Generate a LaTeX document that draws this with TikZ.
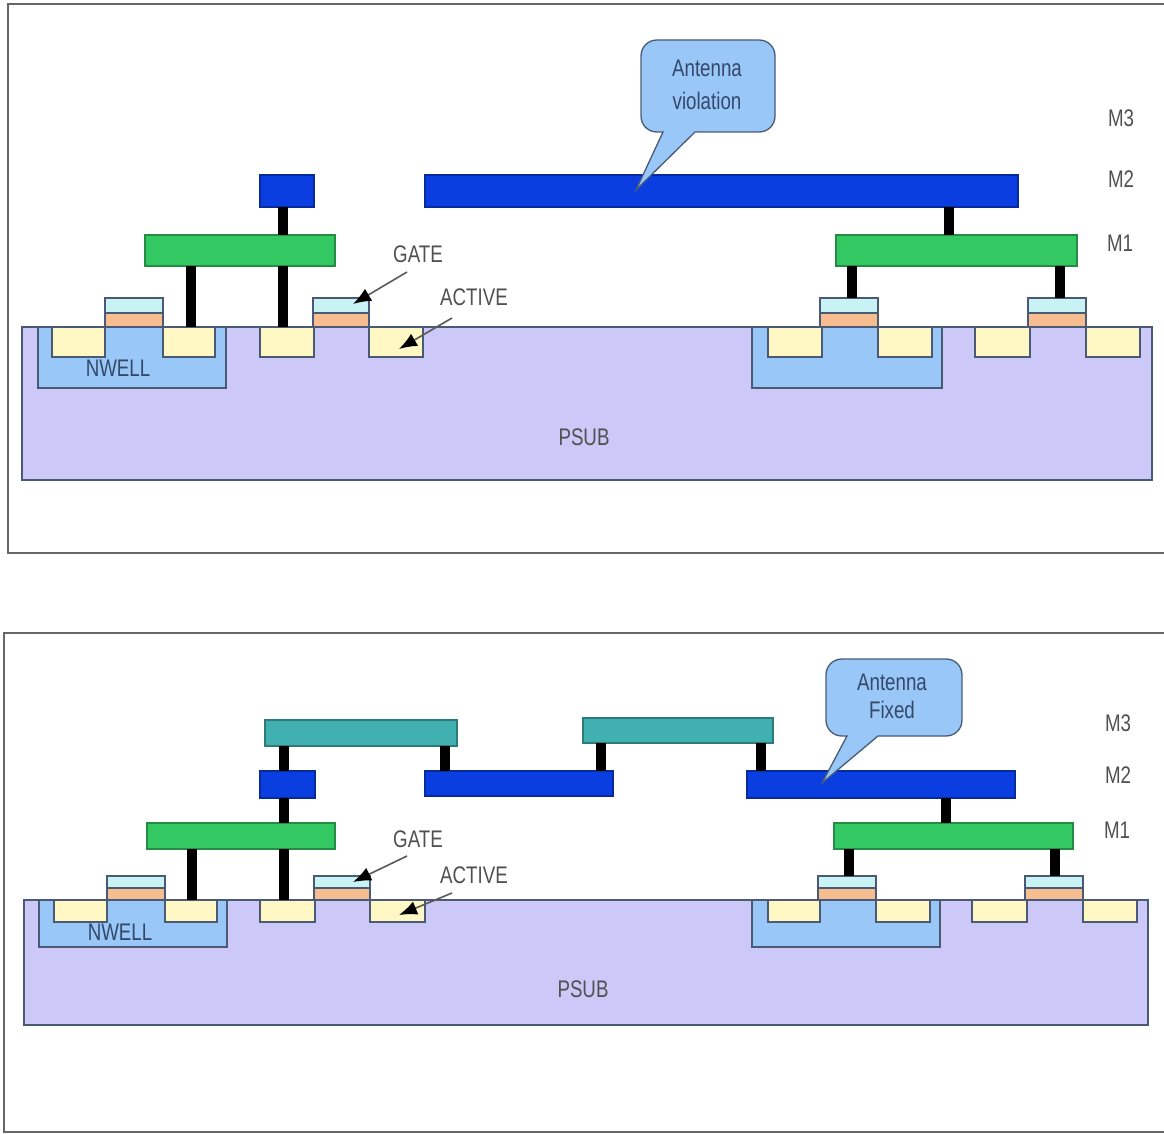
\documentclass[tikz,border=0pt]{standalone}
\usepackage{fontspec}
\usepackage{tikz}
\usetikzlibrary{arrows.meta,fit}
\newfontfamily\lblfont[FakeStretch=0.78]{Liberation Sans}
\definecolor{SubFill}{HTML}{CCC8F8}
\definecolor{WellFill}{HTML}{99C8F8}
\definecolor{ActiveFill}{HTML}{FFF8C4}
\definecolor{CapFill}{HTML}{C8F2F4}
\definecolor{PolyFill}{HTML}{F6BE90}
\definecolor{MoneFill}{HTML}{33C862}
\definecolor{MtwoFill}{HTML}{0A3EE0}
\definecolor{MthreeFill}{HTML}{40B0B0}
\definecolor{EdgeGray}{HTML}{4A5A74}
\definecolor{LabelGray}{HTML}{505050}
\definecolor{LabelBlue}{HTML}{34486A}

\begin{document}
\begin{tikzpicture}[
  x=1pt, y=-1pt,
  layer/.style={draw=EdgeGray, line width=1.2pt, inner sep=0pt, outer sep=0pt},
  psub/.style={layer, fill=SubFill},
  nwell/.style={layer, fill=WellFill},
  diffusion/.style={layer, fill=ActiveFill},
  gatecap/.style={layer, fill=CapFill},
  gatepoly/.style={layer, fill=PolyFill},
  mone/.style={layer, draw=MoneFill!70!black, fill=MoneFill},
  mtwo/.style={layer, draw=MtwoFill!70!black, fill=MtwoFill},
  mthree/.style={layer, draw=MthreeFill!70!black, fill=MthreeFill},
  via/.style={line width=10pt, draw=black},
  panel/.style={line width=2.5pt, draw=black!60},
  callout/.style={draw=EdgeGray, line width=1.3pt, fill=WellFill},
  lbl/.style={font=\lblfont\fontsize{24}{33}\selectfont, text=LabelGray, inner sep=0pt, align=center},
  lead/.style={-{Latex[length=18pt, width=14pt, color=black]}, line width=1.6pt, draw=black!65}
]
\useasboundingbox (0,0) rectangle (1164,1134);

% violation panel
\draw[panel] (1164,4) -- (8,4) -- (8,553) -- (1164,553);
\node[psub, fit={(22,327) (1152,480)}] (subA) {};
\node[nwell, fit={(38,327) (226,388)}] (wellAl) {};
\node[nwell, fit={(752,327) (942,388)}] (wellAr) {};
\foreach \xa/\xb in {52/105, 163/215, 260/314, 369/423, 768/822, 878/932, 975/1030, 1086/1140}
  \node[diffusion, fit={(\xa,327) (\xb,357)}] (actA\xa) {};
\foreach \xa/\xb in {105/163, 313/369, 820/878, 1028/1086} {
  \node[gatepoly, fit={(\xa,313) (\xb,327)}] (polyA\xa) {};
  \node[gatecap, fit={(\xa,298) (\xb,313)}] (capA\xa) {};
}
\node[mone, fit={(145,235) (335,266)}] (moneAl) {};
\node[mone, fit={(836,235) (1077,266)}] (moneAr) {};
\node[mtwo, fit={(260,175) (314,207)}] (mtwoAl) {};
\node[mtwo, fit={(425,175) (1018,207)}] (mtwoAr) {};
\draw[via] (283,0 |- mtwoAl.south) -- (283,0 |- moneAl.north);
\draw[via] (283,0 |- moneAl.south) -- (283,0 |- subA.north);
\draw[via] (191,0 |- moneAl.south) -- (191,0 |- subA.north);
\draw[via] (949,0 |- mtwoAr.south) -- (949,0 |- moneAr.north);
\draw[via] (852,0 |- moneAr.south) -- (852,0 |- capA820.north);
\draw[via] (1060,0 |- moneAr.south) -- (1060,0 |- capA1028.north);
\draw[callout] (695,132) -- (759,132) .. controls (768,132) and (775,125) .. (775,116) -- (775,56) .. controls (775,47) and (768,40) .. (759,40) -- (657,40) .. controls (648,40) and (641,47) .. (641,56) -- (641,116) .. controls (641,125) and (648,132) .. (657,132) -- (663,132) -- (636,190) -- cycle;
\node[lbl, text=LabelBlue] (noteA) at (707,85) {Antenna\\violation};
\node[lbl] (mthreeA) at (1121,118) {M3};
\node[lbl] (mtwoA) at (1121,179) {M2};
\node[lbl] (moneA) at (1120,243) {M1};
\node[lbl] (gateA) at (418,254) {GATE};
\node[lbl] (activeA) at (474,297) {ACTIVE};
\node[lbl] (psubA) at (584,437) {PSUB};
\node[lbl, text=LabelBlue] (nwellA) at (118,368) {NWELL};
\coordinate (gateAtip) at (353,304);
\coordinate (activeAtip) at (399,349);
\draw[lead] (407,272) -- (gateAtip);
\draw[lead] (452,318) -- (activeAtip);

% fixed panel
\draw[panel] (1164,633) -- (4,633) -- (4,1132) -- (1164,1132);
\node[psub, fit={(24,900) (1148,1025)}] (subB) {};
\node[nwell, fit={(39,900) (227,947)}] (wellBl) {};
\node[nwell, fit={(752,900) (940,947)}] (wellBr) {};
\foreach \xa/\xb in {54/107, 165/217, 260/315, 370/425, 768/820, 876/930, 972/1027, 1083/1137}
  \node[diffusion, fit={(\xa,900) (\xb,922)}] (actB\xa) {};
\foreach \xa/\xb in {107/165, 314/370, 818/876, 1025/1083} {
  \node[gatepoly, fit={(\xa,888) (\xb,900)}] (polyB\xa) {};
  \node[gatecap, fit={(\xa,876) (\xb,888)}] (capB\xa) {};
}
\node[mone, fit={(147,823) (335,849)}] (moneBl) {};
\node[mone, fit={(834,823) (1073,849)}] (moneBr) {};
\node[mtwo, fit={(260,771) (315,798)}] (mtwoBl) {};
\node[mtwo, fit={(425,771) (613,796)}] (mtwoBm) {};
\node[mtwo, fit={(747,771) (1015,798)}] (mtwoBr) {};
\node[mthree, fit={(265,720) (457,746)}] (mthreeBl) {};
\node[mthree, fit={(583,718) (773,743)}] (mthreeBr) {};
\draw[via] (284,0 |- mthreeBl.south) -- (284,0 |- mtwoBl.north);
\draw[via] (284,0 |- mtwoBl.south) -- (284,0 |- moneBl.north);
\draw[via] (284,0 |- moneBl.south) -- (284,0 |- subB.north);
\draw[via] (192,0 |- moneBl.south) -- (192,0 |- subB.north);
\draw[via] (445,0 |- mthreeBl.south) -- (445,0 |- mtwoBm.north);
\draw[via] (601,0 |- mthreeBr.south) -- (601,0 |- mtwoBm.north);
\draw[via] (761,0 |- mthreeBr.south) -- (761,0 |- mtwoBr.north);
\draw[via] (946,0 |- mtwoBr.south) -- (946,0 |- moneBr.north);
\draw[via] (849,0 |- moneBr.south) -- (849,0 |- capB818.north);
\draw[via] (1055,0 |- moneBr.south) -- (1055,0 |- capB1025.north);
\draw[callout] (878,736) -- (946,736) .. controls (955,736) and (962,729) .. (962,720) -- (962,675) .. controls (962,666) and (955,659) .. (946,659) -- (842,659) .. controls (833,659) and (826,666) .. (826,675) -- (826,720) .. controls (826,729) and (833,736) .. (842,736) -- (847,736) -- (822,783) -- cycle;
\node[lbl, text=LabelBlue] (noteB) at (892,696) {Antenna\\[-5pt]Fixed};
\node[lbl] (mthreeB) at (1118,723) {M3};
\node[lbl] (mtwoB) at (1118,775) {M2};
\node[lbl] (moneB) at (1117,830) {M1};
\node[lbl] (gateB) at (418,839) {GATE};
\node[lbl] (activeB) at (474,875) {ACTIVE};
\node[lbl] (psubB) at (583,989) {PSUB};
\node[lbl, text=LabelBlue] (nwellB) at (120,932) {NWELL};
\coordinate (gateBtip) at (353,882);
\coordinate (activeBtip) at (399,915);
\draw[lead] (407,856) -- (gateBtip);
\draw[lead] (452,893) -- (activeBtip);
\end{tikzpicture}
\end{document}
